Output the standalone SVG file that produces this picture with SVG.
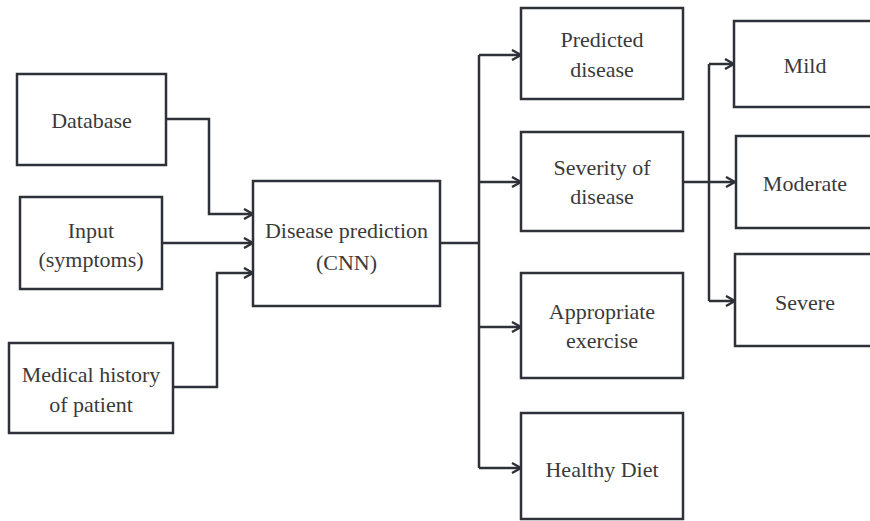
<svg xmlns="http://www.w3.org/2000/svg" width="870" height="521" viewBox="0 0 870 521">
<style>
.box{fill:#fff;stroke:#2f3138;stroke-width:2.5}
.lbl{font-family:"Liberation Serif","Times New Roman",serif;font-size:22px;fill:#3a3a3a;text-anchor:middle}
.con{fill:none;stroke:#2f3138;stroke-width:2.5;marker-end:url(#arr)}
.ln{fill:none;stroke:#2f3138;stroke-width:2.5}
</style>
<defs>
<marker id="arr" viewBox="0 0 12 12" refX="11" refY="6" markerWidth="12" markerHeight="12" markerUnits="userSpaceOnUse" orient="auto">
<polyline points="2,1 11,6 2,11" fill="none" stroke="#2f3138" stroke-width="2.4"/>
</marker>
</defs>
<rect width="870" height="521" fill="#fff"/>
<g id="connectors">
<path class="con" d="M166,119 H209 V214 H253"/>
<path class="con" d="M162,243 H253"/>
<path class="con" d="M173,387 H217 V273 H253"/>
<path class="ln" d="M440,243 H479"/>
<path class="ln" d="M479,55 V468"/>
<path class="con" d="M479,55 H521"/>
<path class="con" d="M479,182 H521"/>
<path class="con" d="M479,327 H521"/>
<path class="con" d="M479,468 H521"/>
<path class="con" d="M683,182 H735"/>
<path class="ln" d="M709,64 V301"/>
<path class="con" d="M709,64 H734"/>
<path class="con" d="M709,301 H735"/>
</g>
<g id="database"><rect class="box" x="17" y="74" width="149" height="91"/><text class="lbl" x="91.5" y="128">Database</text></g>
<g id="input"><rect class="box" x="20" y="197" width="142" height="92"/><text class="lbl" x="91" y="238">Input</text><text class="lbl" x="91" y="267">(symptoms)</text></g>
<g id="history"><rect class="box" x="9" y="343" width="164" height="90"/><text class="lbl" x="91" y="382">Medical history</text><text class="lbl" x="91" y="412">of patient</text></g>
<g id="cnn"><rect class="box" x="253" y="181" width="187" height="125"/><text class="lbl" x="346.5" y="238">Disease prediction</text><text class="lbl" x="346.5" y="270">(CNN)</text></g>
<g id="predicted"><rect class="box" x="521" y="8" width="162" height="91"/><text class="lbl" x="602" y="47">Predicted</text><text class="lbl" x="602" y="77">disease</text></g>
<g id="severity"><rect class="box" x="521" y="132" width="162" height="99"/><text class="lbl" x="602" y="175">Severity of</text><text class="lbl" x="602" y="204">disease</text></g>
<g id="exercise"><rect class="box" x="521" y="273" width="162" height="105"/><text class="lbl" x="602" y="319">Appropriate</text><text class="lbl" x="602" y="348">exercise</text></g>
<g id="diet"><rect class="box" x="521" y="413" width="162" height="106"/><text class="lbl" x="602" y="477">Healthy Diet</text></g>
<g id="mild"><rect class="box" x="734" y="21" width="145" height="86"/><text class="lbl" x="805" y="73">Mild</text></g>
<g id="moderate"><rect class="box" x="736" y="136" width="143" height="92"/><text class="lbl" x="805" y="191">Moderate</text></g>
<g id="severe"><rect class="box" x="735" y="254" width="144" height="92"/><text class="lbl" x="805" y="310">Severe</text></g>
</svg>
